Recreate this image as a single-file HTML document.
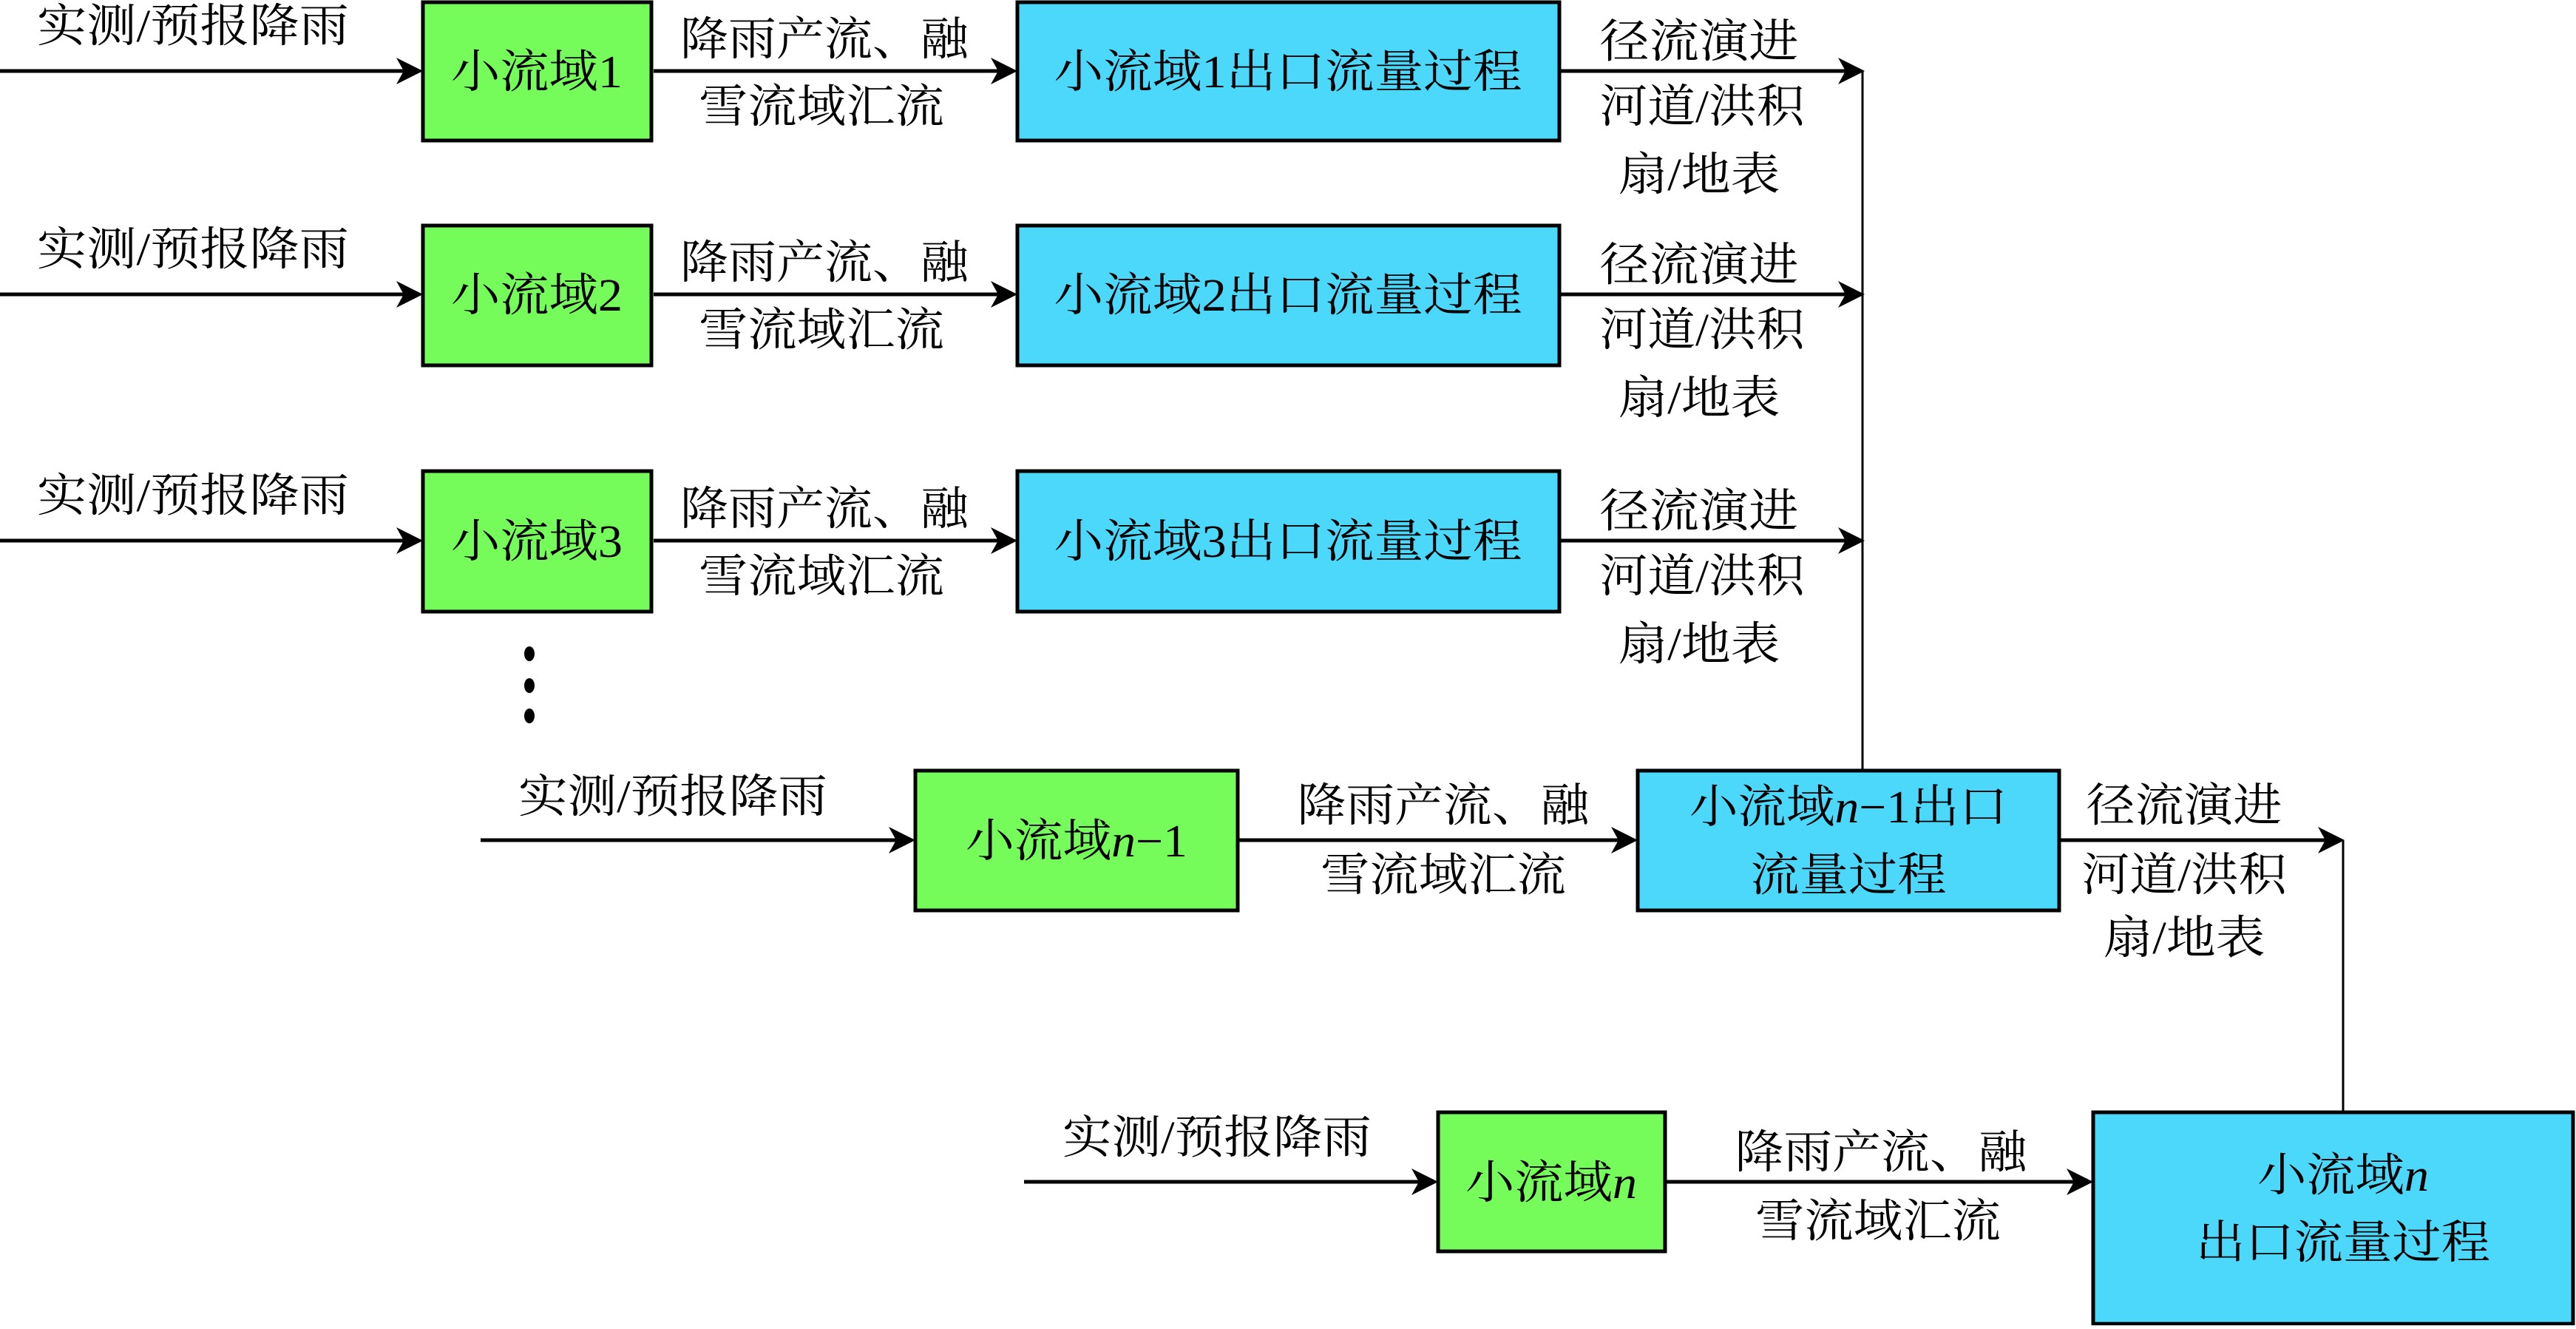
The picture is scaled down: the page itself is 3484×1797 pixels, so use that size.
<!DOCTYPE html>
<html><head><meta charset="utf-8"><style>
html,body{margin:0;padding:0;background:#fff;}
svg text{font-family:"Liberation Serif","Noto Serif CJK SC",serif;font-size:62px;fill:#000;}
</style></head><body>
<svg width="3484" height="1792" viewBox="0 0 3484 1792" xmlns="http://www.w3.org/2000/svg">
<defs>
<marker id="a" markerWidth="10" markerHeight="10" refX="9" refY="5" orient="auto" markerUnits="userSpaceOnUse" viewBox="0 0 10 10">
</marker>
</defs>
<g stroke="#000" stroke-width="5">
<!-- row boxes -->
<rect x="572" y="3" width="309" height="187" fill="#76FC5A"/>
<rect x="1376" y="3" width="733" height="187" fill="#4CD8FB"/>
<rect x="572" y="305" width="309" height="189" fill="#76FC5A"/>
<rect x="1376" y="305" width="733" height="189" fill="#4CD8FB"/>
<rect x="572" y="637" width="309" height="190" fill="#76FC5A"/>
<rect x="1376" y="637" width="733" height="190" fill="#4CD8FB"/>
<rect x="1238" y="1042" width="436" height="189" fill="#76FC5A"/>
<rect x="2215" y="1042" width="570" height="189" fill="#4CD8FB"/>
<rect x="1945" y="1504" width="307" height="188" fill="#76FC5A"/>
<rect x="2831" y="1504" width="649" height="286" fill="#4CD8FB"/>
</g>
<g stroke="#000" stroke-width="5" fill="none">
<line x1="0" y1="96" x2="555" y2="96"/><line x1="884" y1="96" x2="1360" y2="96"/><line x1="2111" y1="96" x2="2505" y2="96"/>
<line x1="0" y1="398" x2="555" y2="398"/><line x1="884" y1="398" x2="1360" y2="398"/><line x1="2111" y1="398" x2="2505" y2="398"/>
<line x1="0" y1="731" x2="555" y2="731"/><line x1="884" y1="731" x2="1360" y2="731"/><line x1="2111" y1="731" x2="2505" y2="731"/>
<line x1="650" y1="1136" x2="1222" y2="1136"/><line x1="1676" y1="1136" x2="2199" y2="1136"/><line x1="2787" y1="1136" x2="3153" y2="1136"/>
<line x1="1385" y1="1598" x2="1929" y2="1598"/><line x1="2254" y1="1598" x2="2815" y2="1598"/>
</g>
<g stroke="#000" stroke-width="3">
<line x1="2519" y1="96" x2="2519" y2="1040"/>
<line x1="3169" y1="1136" x2="3169" y2="1503"/>
</g>
<g fill="#000">
<path d="M572 96 L536 78 L546 96 L536 114Z"/><path d="M1376 96 L1340 78 L1350 96 L1340 114Z"/><path d="M2522 96 L2486 78 L2496 96 L2486 114Z"/>
<path d="M572 398 L536 380 L546 398 L536 416Z"/><path d="M1376 398 L1340 380 L1350 398 L1340 416Z"/><path d="M2522 398 L2486 380 L2496 398 L2486 416Z"/>
<path d="M572 731 L536 713 L546 731 L536 749Z"/><path d="M1376 731 L1340 713 L1350 731 L1340 749Z"/><path d="M2522 731 L2486 713 L2496 731 L2486 749Z"/>
<path d="M1238 1136 L1202 1118 L1212 1136 L1202 1154Z"/><path d="M2215 1136 L2179 1118 L2189 1136 L2179 1154Z"/><path d="M3171 1136 L3135 1118 L3145 1136 L3135 1154Z"/>
<path d="M1945 1598 L1909 1580 L1919 1598 L1909 1616Z"/><path d="M2831 1598 L2795 1580 L2805 1598 L2795 1616Z"/>
<ellipse cx="716" cy="884" rx="7" ry="10"/><ellipse cx="716" cy="927" rx="7" ry="10"/><ellipse cx="716" cy="968" rx="7" ry="10"/>
</g>
<g text-anchor="middle" lengthAdjust="spacingAndGlyphs">
<!-- row 1 -->
<text x="261" y="56" textLength="422" lengthAdjust="spacingAndGlyphs">实测/预报降雨</text>
<text x="726" y="118" textLength="232" lengthAdjust="spacingAndGlyphs">小流域1</text>
<text x="1115" y="74" textLength="390" lengthAdjust="spacingAndGlyphs">降雨产流、融</text>
<text x="1111" y="165" textLength="332" lengthAdjust="spacingAndGlyphs">雪流域汇流</text>
<text x="1742" y="118" textLength="633" lengthAdjust="spacingAndGlyphs">小流域1出口流量过程</text>
<text x="2298" y="77" textLength="269" lengthAdjust="spacingAndGlyphs">径流演进</text>
<text x="2302" y="165" textLength="277" lengthAdjust="spacingAndGlyphs">河道/洪积</text>
<text x="2298" y="257" textLength="219" lengthAdjust="spacingAndGlyphs">扇/地表</text>
<!-- row 2 -->
<text x="261" y="358" textLength="422" lengthAdjust="spacingAndGlyphs">实测/预报降雨</text>
<text x="726" y="420" textLength="232" lengthAdjust="spacingAndGlyphs">小流域2</text>
<text x="1115" y="376" textLength="390" lengthAdjust="spacingAndGlyphs">降雨产流、融</text>
<text x="1111" y="467" textLength="332" lengthAdjust="spacingAndGlyphs">雪流域汇流</text>
<text x="1742" y="420" textLength="633" lengthAdjust="spacingAndGlyphs">小流域2出口流量过程</text>
<text x="2298" y="379" textLength="269" lengthAdjust="spacingAndGlyphs">径流演进</text>
<text x="2302" y="467" textLength="277" lengthAdjust="spacingAndGlyphs">河道/洪积</text>
<text x="2298" y="559" textLength="219" lengthAdjust="spacingAndGlyphs">扇/地表</text>
<!-- row 3 -->
<text x="261" y="691" textLength="422" lengthAdjust="spacingAndGlyphs">实测/预报降雨</text>
<text x="726" y="753" textLength="232" lengthAdjust="spacingAndGlyphs">小流域3</text>
<text x="1115" y="709" textLength="390" lengthAdjust="spacingAndGlyphs">降雨产流、融</text>
<text x="1111" y="800" textLength="332" lengthAdjust="spacingAndGlyphs">雪流域汇流</text>
<text x="1742" y="753" textLength="633" lengthAdjust="spacingAndGlyphs">小流域3出口流量过程</text>
<text x="2298" y="712" textLength="269" lengthAdjust="spacingAndGlyphs">径流演进</text>
<text x="2302" y="800" textLength="277" lengthAdjust="spacingAndGlyphs">河道/洪积</text>
<text x="2298" y="892" textLength="219" lengthAdjust="spacingAndGlyphs">扇/地表</text>
<!-- row n-1 -->
<text x="910" y="1098" textLength="418" lengthAdjust="spacingAndGlyphs">实测/预报降雨</text>
<text x="1456" y="1158" textLength="300" lengthAdjust="spacingAndGlyphs">小流域<tspan font-style="italic">n</tspan>−1</text>
<text x="1952" y="1110" textLength="395" lengthAdjust="spacingAndGlyphs">降雨产流、融</text>
<text x="1952" y="1204" textLength="332" lengthAdjust="spacingAndGlyphs">雪流域汇流</text>
<text x="2500" y="1112" textLength="430" lengthAdjust="spacingAndGlyphs">小流域<tspan font-style="italic">n</tspan>−1出口</text>
<text x="2500" y="1204" textLength="265" lengthAdjust="spacingAndGlyphs">流量过程</text>
<text x="2954" y="1110" textLength="265" lengthAdjust="spacingAndGlyphs">径流演进</text>
<text x="2954" y="1204" textLength="277" lengthAdjust="spacingAndGlyphs">河道/洪积</text>
<text x="2954" y="1289" textLength="219" lengthAdjust="spacingAndGlyphs">扇/地表</text>
<!-- row n -->
<text x="1646" y="1559" textLength="418" lengthAdjust="spacingAndGlyphs">实测/预报降雨</text>
<text x="2098" y="1620" textLength="232" lengthAdjust="spacingAndGlyphs">小流域<tspan font-style="italic">n</tspan></text>
<text x="2544" y="1579" textLength="395" lengthAdjust="spacingAndGlyphs">降雨产流、融</text>
<text x="2540" y="1672" textLength="332" lengthAdjust="spacingAndGlyphs">雪流域汇流</text>
<text x="3169" y="1610" textLength="232" lengthAdjust="spacingAndGlyphs">小流域<tspan font-style="italic">n</tspan></text>
<text x="3169" y="1701" textLength="398" lengthAdjust="spacingAndGlyphs">出口流量过程</text>
</g>
</svg>
</body></html>
